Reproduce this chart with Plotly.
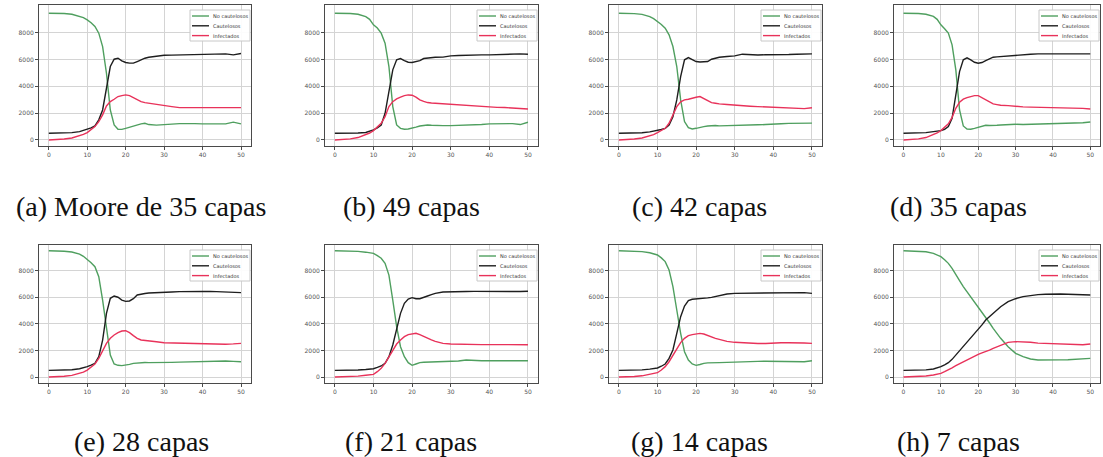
import plotly.graph_objects as go

X = [0, 2, 4, 6, 8, 9, 10, 11, 12, 13, 14, 15, 16, 17, 18, 19, 20, 21, 22, 23, 24, 25, 26,
     28, 30, 32, 34, 36, 38, 40, 42, 44, 46, 48, 50]

captions = ["(a) Moore de 35 capas", "(b) 49 capas", "(c) 42 capas", "(d) 35 capas",
            "(e) 28 capas", "(f) 21 capas", "(g) 14 capas", "(h) 7 capas"]
series_names = ["No cautelosos", "Cautelosos", "Infectados"]

a_green = [9460, 9455, 9440, 9380, 9250, 9130, 8960, 8750, 8470, 7970, 6970, 4980, 2240, 1120, 800, 790, 870, 960, 1045, 1120, 1200, 1245, 1150, 1110, 1120, 1180, 1220, 1240, 1220, 1200, 1210, 1190, 1200, 1330, 1200]
a_black = [500, 505, 520, 550, 620, 700, 800, 900, 1045, 1500, 2240, 3735, 5480, 6025, 6100, 5900, 5780, 5730, 5730, 5850, 5980, 6100, 6175, 6275, 6320, 6330, 6350, 6340, 6370, 6400, 6380, 6400, 6420, 6350, 6450]
a_red = [0, 20, 70, 150, 300, 410, 550, 760, 1000, 1370, 1870, 2540, 2860, 3040, 3240, 3310, 3360, 3310, 3160, 3000, 2860, 2790, 2740, 2660, 2590, 2490, 2415, 2410, 2410, 2410, 2410, 2410, 2410, 2410, 2410]

b_green = [9460, 9455, 9440, 9380, 9200, 9000, 8590, 8350, 7970, 7220, 5480, 2490, 1120, 870, 800, 820, 870, 960, 1045, 1100, 1120, 1100, 1080, 1070, 1070, 1080, 1100, 1090, 1150, 1200, 1190, 1200, 1220, 1150, 1320]
b_black = [500, 500, 505, 520, 560, 630, 750, 900, 1120, 1990, 3490, 5230, 5980, 6075, 5925, 5800, 5780, 5850, 5920, 6075, 6125, 6150, 6175, 6180, 6275, 6300, 6330, 6350, 6350, 6350, 6380, 6400, 6400, 6420, 6400]
b_red = [0, 20, 80, 180, 375, 520, 700, 950, 1245, 1740, 2490, 2860, 3060, 3190, 3310, 3360, 3340, 3190, 2990, 2880, 2790, 2760, 2740, 2720, 2640, 2610, 2580, 2550, 2500, 2440, 2430, 2420, 2400, 2360, 2315]

c_green = [9460, 9455, 9430, 9370, 9200, 9050, 8840, 8620, 8340, 7840, 6970, 5480, 2990, 1370, 920, 820, 870, 950, 1000, 1040, 1070, 1080, 1050, 1060, 1050, 1100, 1120, 1130, 1150, 1200, 1210, 1240, 1250, 1300, 1260]
c_black = [500, 505, 520, 540, 600, 650, 700, 780, 870, 1120, 1740, 2990, 4730, 5980, 6150, 5980, 5850, 5820, 5820, 5850, 6025, 6100, 6175, 6225, 6275, 6400, 6350, 6340, 6360, 6350, 6370, 6380, 6400, 6420, 6420]
c_red = [0, 20, 70, 150, 300, 400, 550, 700, 870, 1245, 1870, 2490, 2840, 2990, 3040, 3140, 3190, 3240, 3110, 2940, 2790, 2740, 2690, 2650, 2590, 2560, 2520, 2490, 2470, 2415, 2400, 2380, 2365, 2340, 2400]

d_green = [9460, 9455, 9440, 9380, 9220, 9000, 8590, 8300, 7970, 7100, 5230, 2240, 1045, 820, 800, 870, 950, 1030, 1100, 1080, 1070, 1100, 1120, 1150, 1170, 1150, 1170, 1180, 1190, 1200, 1210, 1230, 1240, 1280, 1345]
d_black = [500, 505, 520, 550, 620, 660, 700, 800, 1000, 1620, 3240, 5100, 5980, 6125, 5980, 5800, 5730, 5780, 5925, 6050, 6175, 6200, 6225, 6250, 6350, 6380, 6400, 6425, 6420, 6400, 6410, 6420, 6400, 6420, 6420]
d_red = [0, 20, 80, 180, 380, 520, 700, 930, 1200, 1690, 2365, 2810, 3040, 3160, 3240, 3310, 3310, 3160, 2990, 2830, 2690, 2640, 2590, 2560, 2490, 2470, 2450, 2440, 2430, 2415, 2420, 2410, 2400, 2360, 2315]

e_green = [9500, 9490, 9460, 9400, 9250, 9080, 8850, 8600, 8300, 7550, 5790, 3535, 1655, 980, 880, 860, 880, 950, 1030, 1060, 1080, 1090, 1080, 1070, 1080, 1100, 1120, 1130, 1140, 1200, 1200, 1190, 1210, 1180, 1150]
e_black = [500, 505, 520, 550, 620, 690, 780, 900, 1030, 1530, 2780, 4790, 5920, 6095, 6000, 5790, 5690, 5720, 5890, 6170, 6245, 6280, 6320, 6350, 6420, 6400, 6420, 6410, 6420, 6430, 6440, 6420, 6420, 6400, 6345]
e_red = [0, 20, 60, 120, 250, 370, 525, 730, 980, 1400, 2030, 2530, 2910, 3160, 3335, 3460, 3485, 3335, 3110, 2910, 2785, 2740, 2710, 2650, 2580, 2560, 2540, 2530, 2520, 2480, 2470, 2460, 2470, 2490, 2530]

f_green = [9500, 9495, 9480, 9450, 9390, 9350, 9300, 9130, 8930, 8550, 7670, 5790, 3790, 2280, 1530, 1080, 880, 980, 1080, 1110, 1120, 1130, 1130, 1140, 1130, 1200, 1280, 1230, 1220, 1220, 1220, 1210, 1200, 1210, 1220]
f_black = [500, 502, 510, 530, 570, 600, 625, 720, 830, 1030, 1530, 2410, 3660, 4790, 5540, 5870, 5970, 5890, 5890, 5970, 6095, 6200, 6295, 6395, 6420, 6420, 6430, 6440, 6430, 6430, 6420, 6440, 6420, 6430, 6450]
f_red = [0, 10, 30, 70, 130, 160, 200, 400, 650, 1030, 1530, 2030, 2480, 2785, 3035, 3185, 3235, 3285, 3185, 3035, 2885, 2790, 2685, 2530, 2480, 2460, 2440, 2440, 2440, 2440, 2440, 2440, 2440, 2440, 2430]

g_green = [9500, 9495, 9475, 9430, 9350, 9280, 9180, 8960, 8680, 8050, 6800, 5040, 3285, 1905, 1280, 980, 880, 940, 1030, 1060, 1080, 1090, 1080, 1100, 1130, 1150, 1170, 1180, 1190, 1180, 1180, 1160, 1170, 1150, 1220]
g_black = [500, 505, 515, 540, 590, 630, 680, 810, 980, 1400, 2030, 3285, 4540, 5340, 5745, 5845, 5870, 5850, 5890, 5950, 5995, 6060, 6145, 6245, 6295, 6300, 6320, 6310, 6330, 6340, 6320, 6320, 6330, 6350, 6290]
g_red = [0, 10, 40, 90, 180, 250, 325, 530, 780, 1150, 1655, 2155, 2585, 2910, 3110, 3190, 3235, 3285, 3235, 3110, 2985, 2910, 2835, 2685, 2610, 2570, 2540, 2520, 2520, 2560, 2580, 2580, 2590, 2560, 2530]

h_green = [9500, 9490, 9470, 9420, 9300, 9180, 9050, 8820, 8550, 8180, 7670, 7250, 6800, 6420, 6045, 5650, 5240, 4860, 4490, 4080, 3660, 3290, 2910, 2280, 1780, 1530, 1355, 1280, 1270, 1280, 1290, 1300, 1330, 1350, 1405]
h_black = [500, 505, 515, 540, 600, 680, 780, 920, 1080, 1330, 1655, 1960, 2280, 2600, 2910, 3220, 3535, 3920, 4290, 4540, 4790, 5040, 5290, 5670, 5890, 6045, 6145, 6195, 6220, 6245, 6240, 6220, 6200, 6190, 6170]
h_red = [0, 10, 40, 80, 150, 210, 275, 400, 525, 690, 850, 1000, 1150, 1300, 1455, 1580, 1705, 1810, 1905, 2030, 2155, 2280, 2410, 2610, 2660, 2650, 2610, 2550, 2530, 2510, 2500, 2500, 2480, 2430, 2480]

panels = [
    (a_green, a_black, a_red), (b_green, b_black, b_red),
    (c_green, c_black, c_red), (d_green, d_black, d_red),
    (e_green, e_black, e_red), (f_green, f_black, f_red),
    (g_green, g_black, g_red), (h_green, h_black, h_red),
]

x_ticks = [0, 10, 20, 30, 40, 50]
y_ticks = [0, 2000, 4000, 6000, 8000]
colors = ["#4f9f5f", "#1e1e1e", "#e8325a"]

W, H = 1103, 457
col_px = [(39, 251), (325, 538), (609, 822), (894, 1100)]
row_px = [(5, 146), (245, 383)]
row_range = [[-450, 10070], [-450, 9930]]
cap_x_px = [141, 411, 699, 959]
cap_y_px = [206, 441]


def px(xp):
    return xp / W


def py(yp):
    return 1 - yp / H


fig = go.Figure()
layout = {}
shapes = []
for i, (gr, bl, rd) in enumerate(panels):
    r, c = divmod(i, 4)
    n = i + 1
    xa = "xaxis" if n == 1 else f"xaxis{n}"
    ya = "yaxis" if n == 1 else f"yaxis{n}"
    xref = "x" if n == 1 else f"x{n}"
    yref = "y" if n == 1 else f"y{n}"
    for name, vals, col in zip(series_names, (gr, bl, rd), colors):
        fig.add_trace(go.Scatter(x=X, y=vals, mode="lines", name=name,
                                 line=dict(color=col, width=1.4),
                                 xaxis=xref, yaxis=yref, showlegend=False))
    x0, x1 = col_px[c]
    t, b = row_px[r]
    common = dict(showgrid=True, gridcolor="#d4d4d4", gridwidth=1, zeroline=False,
                  showline=True, mirror=True, linecolor="#4a4a4a", linewidth=1,
                  ticks="outside", ticklen=3, tickcolor="#4a4a4a",
                  tickfont=dict(size=6, color="#555555", family="DejaVu Sans"))
    layout[xa] = dict(domain=[px(x0), px(x1)], range=[-2.55, 52.6], anchor=yref,
                      tickvals=x_ticks, **common)
    layout[ya] = dict(domain=[py(b), py(t)], range=row_range[r], anchor=xref,
                      tickvals=y_ticks, **common)

    # legend box (upper right, matplotlib-like)
    bl_, br_ = x1 - 61, x1 - 1
    bt_, bb_ = t + 5, t + 36
    shapes.append(dict(type="rect", xref="paper", yref="paper",
                       x0=px(bl_), x1=px(br_), y0=py(bb_), y1=py(bt_),
                       line=dict(color="#c8c8c8", width=1),
                       fillcolor="rgba(255,255,255,0.92)", layer="above"))
    for k, (name, col) in enumerate(zip(series_names, colors)):
        yy = bt_ + 6 + k * 9.8
        shapes.append(dict(type="line", xref="paper", yref="paper",
                           x0=px(bl_ + 2), x1=px(bl_ + 19), y0=py(yy), y1=py(yy),
                           line=dict(color=col, width=1.4), layer="above"))
        fig.add_annotation(text=name, x=px(bl_ + 21), y=py(yy), xref="paper", yref="paper",
                           showarrow=False, xanchor="left", yanchor="middle",
                           font=dict(size=5, color="#333333", family="DejaVu Sans"))

    fig.add_annotation(text=captions[i], x=px(cap_x_px[c]), y=py(cap_y_px[r]),
                       xref="paper", yref="paper", showarrow=False, xanchor="center",
                       yanchor="middle",
                       font=dict(size=28, color="#111111", family="Liberation Serif"))

fig.update_layout(width=W, height=H, margin=dict(l=0, r=0, t=0, b=0),
                  paper_bgcolor="white", plot_bgcolor="white", shapes=shapes,
                  showlegend=False, **layout)
fig.write_html("out.html")
